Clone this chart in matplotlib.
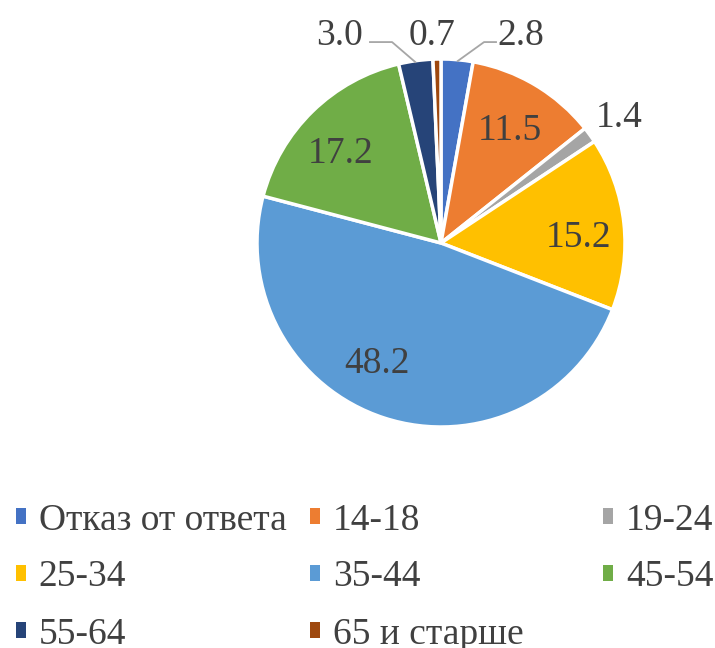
import matplotlib
matplotlib.use("Agg")
import matplotlib.pyplot as plt
from matplotlib.patches import Patch
import numpy as np

plt.rcParams['font.family'] = ['Liberation Serif', 'DejaVu Serif']

# Age groups and shares (%)
categories = ["Отказ от ответа", "14-18", "19-24", "25-34",
              "35-44", "45-54", "55-64", "65 и старше"]
shares = [2.8, 11.5, 1.4, 15.2, 48.2, 17.2, 3.0, 0.7]
colors = ["#4472C4", "#ED7D31", "#A5A5A5", "#FFC000",
          "#5B9BD5", "#70AD47", "#264478", "#9E480E"]

# label placement (x centre, baseline y) in pie-radius units
label_pos = [(0.435, 1.076), (0.375, 0.560), (0.967, 0.630), (0.745, -0.022),
             (-0.348, -0.707), (-0.543, 0.435), (-0.554, 1.076), (-0.049, 1.076)]
# slices that get a leader line: index -> elbow x, end x
leaders = {0: (0.234, 0.304), 6: (-0.266, -0.391)}

W, H, DPI = 715, 648, 100
cx, cy, R = 441, 243, 184  # pie centre / radius in pixels

fig = plt.figure(figsize=(W / DPI, H / DPI), dpi=DPI)
ax = fig.add_axes([0, 0, 1, 1])

wedges, _ = ax.pie(shares, colors=colors, startangle=90, counterclock=False,
                   radius=1.0, wedgeprops=dict(edgecolor="white", linewidth=2.5))

text_color = "#404040"
for i, (v, (lx, ly)) in enumerate(zip(shares, label_pos)):
    ax.text(lx, ly, f"{v:.1f}", ha="center", va="baseline",
            fontsize=27, color=text_color)
    if i in leaders:
        w = wedges[i]
        mid = np.deg2rad((w.theta1 + w.theta2) / 2)
        ex, endx = leaders[i]
        ax.plot([0.99 * np.cos(mid), ex, endx],
                [0.99 * np.sin(mid), 1.092, 1.092],
                color="#A6A6A6", lw=1.3, solid_capstyle="butt")

ax.set_xlim(-cx / R, (W - cx) / R)
ax.set_ylim((cy - H) / R, cy / R)
ax.set_aspect("auto")
ax.axis("off")

# legend laid out row-wise in three equal columns
handles = [Patch(facecolor=c, edgecolor="none") for c in colors]
col_x = [16, 310, 603]
for c in range(3):
    idx = list(range(c, len(categories), 3))
    fig.legend([handles[k] for k in idx], [categories[k] for k in idx],
               loc="upper left", bbox_to_anchor=(col_x[c] / W, 1 - 503 / H),
               frameon=False, fontsize=27, labelcolor=text_color,
               handlelength=0.26, handleheight=0.26, handletextpad=0.35,
               labelspacing=0.6, borderpad=0, borderaxespad=0)

fig.savefig("out.png", dpi=DPI)
